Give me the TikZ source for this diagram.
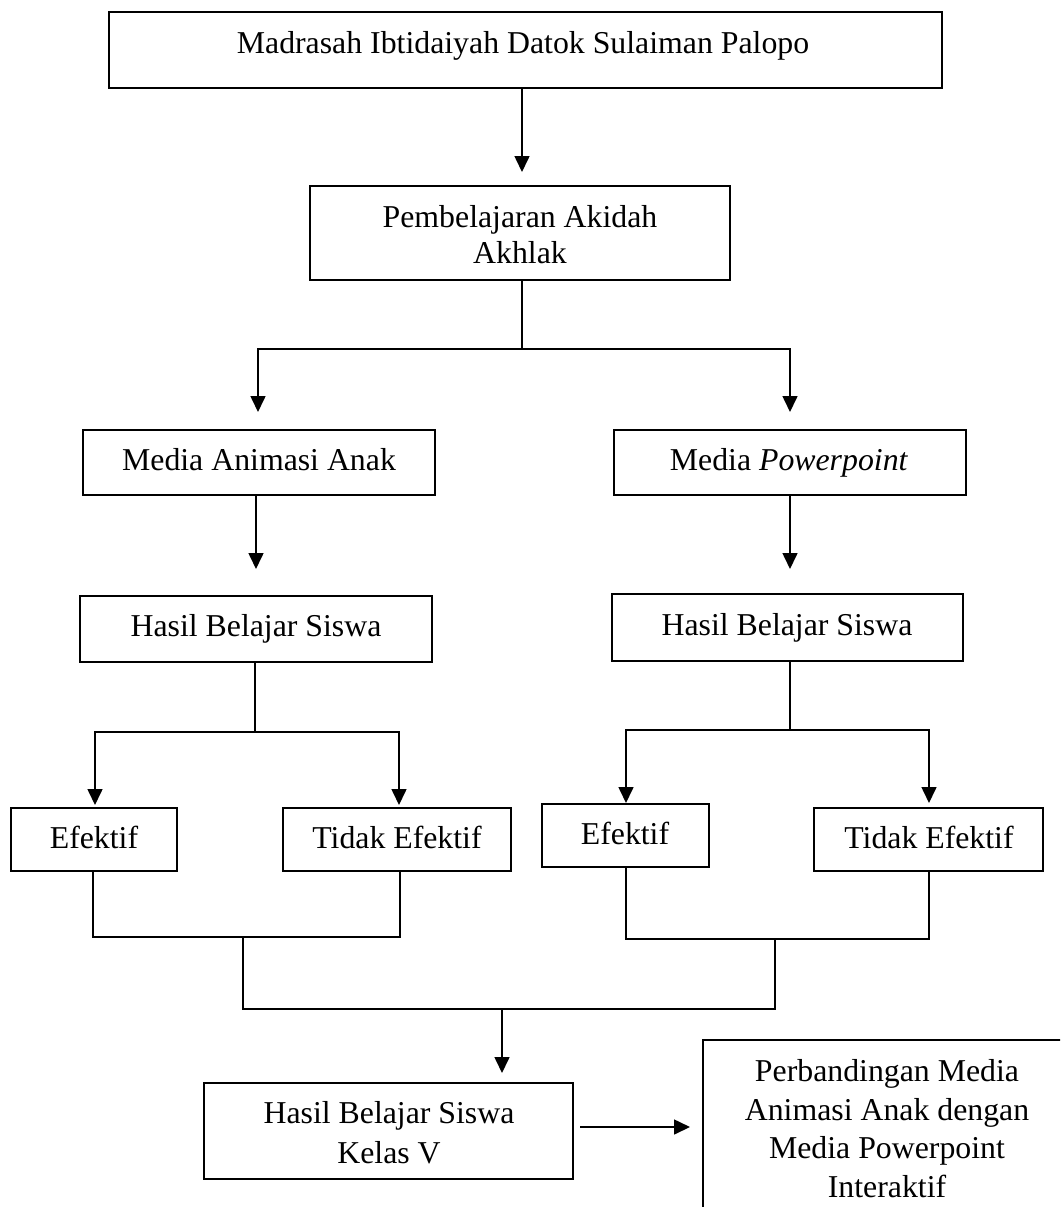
\documentclass[tikz,border=0pt]{standalone}
\usepackage{fontspec}
\setmainfont{Liberation Serif}
\usetikzlibrary{arrows.meta}
\tikzset{
  box/.style={draw=black, line width=2.2pt, inner sep=0pt, outer sep=0pt, fill=none},
  txt/.style={inner sep=0pt, outer sep=0pt, anchor=base, font=\fontsize{31.8}{38}\selectfont},
  conn/.style={draw=black, line width=1.6pt},
  arr/.style={conn, -{Triangle[length=16pt,width=15pt]}}
}
\begin{document}
\begin{tikzpicture}[x=1pt,y=-1pt]
\useasboundingbox (0,0) rectangle (1060,1207);
\clip (0,0) rectangle (1060,1207);
\fill[white] (0,0) rectangle (1060,1207);

% boxes
\node[box, minimum width=833pt, minimum height=76pt] (top) at (525.5,50) {};
\node[box, minimum width=420pt, minimum height=94pt] (pemb) at (520,233) {};
\node[box, minimum width=352pt, minimum height=65pt] (mediaA) at (259,462.5) {};
\node[box, minimum width=352pt, minimum height=65pt] (mediaP) at (790,462.5) {};
\node[box, minimum width=352pt, minimum height=66pt] (hasilA) at (256,629) {};
\node[box, minimum width=351pt, minimum height=67pt] (hasilP) at (787.5,627.5) {};
\node[box, minimum width=166pt, minimum height=63pt] (efA) at (94,839.5) {};
\node[box, minimum width=228pt, minimum height=63pt] (tefA) at (397,839.5) {};
\node[box, minimum width=167pt, minimum height=63pt] (efP) at (625.5,835.5) {};
\node[box, minimum width=229pt, minimum height=63pt] (tefP) at (928.5,839.5) {};
\node[box, minimum width=369pt, minimum height=96pt] (hasilV) at (388.5,1131) {};
\node[box, minimum width=368pt, minimum height=200pt] (perb) at (887,1140) {};

% texts
\node[txt] (tTop) at (523,53) {Madrasah Ibtidaiyah Datok Sulaiman Palopo};
\node[txt] (tPemb1) at (520,227) {Pembelajaran Akidah};
\node[txt] (tPemb2) at (520,263) {Akhlak};
\node[txt] (tMediaA) at (259,470) {Media Animasi Anak};
\node[txt] (tMediaP) at (789,470) {Media \textit{Powerpoint}};
\node[txt] (tHasilA) at (256,636) {Hasil Belajar Siswa};
\node[txt] (tHasilP) at (787,635) {Hasil Belajar Siswa};
\node[txt] (tEfA) at (94,848) {Efektif};
\node[txt] (tTefA) at (397,848) {Tidak Efektif};
\node[txt] (tEfP) at (625,844) {Efektif};
\node[txt] (tTefP) at (929,848) {Tidak Efektif};
\node[txt] (tHasilV1) at (389,1123) {Hasil Belajar Siswa};
\node[txt] (tHasilV2) at (389,1163) {Kelas V};
\node[txt] (tPerb1) at (887,1081) {Perbandingan Media};
\node[txt] (tPerb2) at (887,1120) {Animasi Anak dengan};
\node[txt] (tPerb3) at (887,1158) {Media Powerpoint};
\node[txt] (tPerb4) at (887,1197) {Interaktif};

% connectors
\coordinate (a1) at (522,172);
\draw[arr] (top.south -| a1) -- (a1);

\coordinate (j1) at (522,349);
\coordinate (t1l) at (258,412);
\coordinate (t1r) at (790,412);
\draw[conn] (pemb.south -| j1) -- (j1);
\draw[arr] (j1) -| (t1l);
\draw[arr] (j1) -| (t1r);

\coordinate (t2l) at (256,569);
\coordinate (t2r) at (790,569);
\draw[arr] (mediaA.south -| t2l) -- (t2l);
\draw[arr] (mediaP.south -| t2r) -- (t2r);

\coordinate (j3l) at (255,732);
\coordinate (t3a) at (95,805);
\coordinate (t3b) at (399,805);
\draw[conn] (hasilA.south -| j3l) -- (j3l);
\draw[arr] (j3l) -| (t3a);
\draw[arr] (j3l) -| (t3b);

\coordinate (j3r) at (790,730);
\coordinate (t3c) at (626,803);
\coordinate (t3d) at (929,803);
\draw[conn] (hasilP.south -| j3r) -- (j3r);
\draw[arr] (j3r) -| (t3c);
\draw[arr] (j3r) -| (t3d);

\coordinate (b1) at (93,937);
\coordinate (b2) at (400,937);
\draw[conn] (efA.south -| b1) -- (b1) -- (b2) -- (tefA.south -| b2);
\coordinate (b3) at (626,939);
\coordinate (b4) at (929,939);
\draw[conn] (efP.south -| b3) -- (b3) -- (b4) -- (tefP.south -| b4);

\coordinate (c1) at (243,937);
\coordinate (c2) at (775,939);
\coordinate (d1) at (243,1009);
\coordinate (d2) at (775,1009);
\draw[conn] (c1) -- (d1) -- (d2) -- (c2);

\coordinate (e1) at (502,1009);
\coordinate (e2) at (502,1073);
\draw[arr] (e1) -- (e2);

\coordinate (f1) at (580,1127);
\coordinate (f2) at (690,1127);
\draw[arr] (f1) -- (f2);
\end{tikzpicture}
\end{document}
